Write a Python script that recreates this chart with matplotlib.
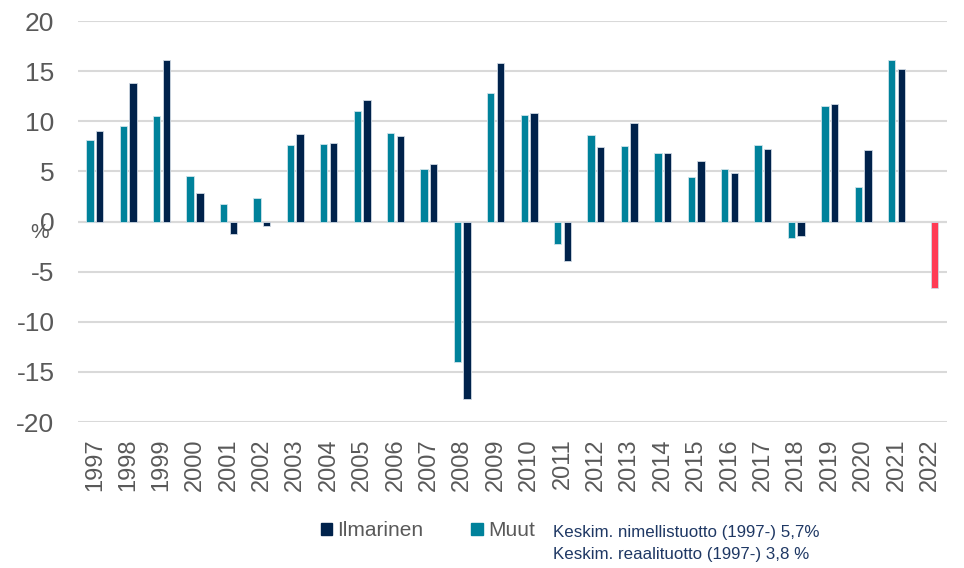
import numpy as np
import matplotlib.pyplot as plt
from matplotlib import font_manager
from matplotlib.patches import Patch

years = [str(y) for y in range(1997, 2023)]
muut = [8.1, 9.55, 10.5, 4.5, 1.7, 2.35, 7.6, 7.75, 11.0, 8.8, 5.2,
        -14.0, 12.8, 10.6, -2.25, 8.6, 7.55, 6.8, 4.4, 5.2, 7.6, -1.65,
        11.5, 3.45, 16.1, np.nan]
ilmarinen = [9.0, 13.8, 16.1, 2.8, -1.2, -0.45, 8.7, 7.85, 12.1, 8.5, 5.7,
             -17.7, 15.8, 10.8, -3.95, 7.45, 9.8, 6.8, 6.0, 4.8, 7.2, -1.4,
             11.75, 7.1, 15.2, -6.6]
notes = ["Keskim. nimellistuotto (1997-) 5,7%",
         "Keskim. reaalituotto (1997-) 3,8 %"]

c_muut = '#00829B'
c_ilm = '#00224B'
c_last = '#FF3B55'
grey = '#595959'

names = {f.name for f in font_manager.fontManager.ttflist}
narrow = 'Liberation Sans Narrow' in names
plt.rcParams['font.family'] = ['Liberation Sans', 'DejaVu Sans']
plt.rcParams['axes.unicode_minus'] = False

fig = plt.figure(figsize=(9.64, 5.68), dpi=100)
ax = fig.add_axes([0.081, 0.257, 0.901, 0.706])

x = np.arange(len(years))
w = 0.22
ilm_colors = [c_ilm] * (len(years) - 1) + [c_last]
ax.bar(x - 0.145, muut, w, color=c_muut, edgecolor='#CFE3EA', linewidth=0.6, zorder=3)
ax.bar(x + 0.145, ilmarinen, w, color=ilm_colors, edgecolor='#CFD8E3', linewidth=0.6, zorder=3)

ax.set_xlim(-0.5, len(years) - 0.5)
ax.set_ylim(-20, 20)
ax.set_yticks(range(-20, 21, 5))
ax.set_xticks(x)
ax.set_xticklabels(years, rotation=90, fontsize=17, color=grey)
ax.tick_params(axis='y', labelsize=19, labelcolor=grey, length=0, pad=17)
ax.tick_params(axis='x', length=0, pad=12)
ax.grid(axis='y', color='#D9D9D9', linewidth=1.5, zorder=0)
ax.axhline(0, color='#D9D9D9', linewidth=1.5, zorder=1)
for s in ax.spines.values():
    s.set_visible(False)

fig.text(30 / 964, 1 - 233 / 568, '%', fontsize=15, color=grey, va='center')

if narrow:
    lfam = ['Liberation Sans Narrow', 'Liberation Sans']
    lsize, nsize = 18, 15
else:
    lfam = ['Liberation Sans', 'DejaVu Sans']
    lsize, nsize = 15, 12.2

handles = [Patch(color=c_ilm), Patch(color=c_muut)]
fig.legend(handles, ['Ilmarinen', 'Muut'], loc='center left',
           bbox_to_anchor=(302 / 964, 1 - 531 / 568), ncol=2, frameon=False,
           handlelength=0.55, handleheight=0.55, handletextpad=0.25,
           columnspacing=2.3, labelcolor=grey,
           prop={'family': lfam, 'size': lsize})

fig.text(553 / 964, 1 - 533 / 568, notes[0], family=lfam, fontsize=nsize,
         color='#1F3864', va='center')
fig.text(553 / 964, 1 - 554 / 568, notes[1], family=lfam, fontsize=nsize,
         color='#1F3864', va='center')

fig.savefig('out.png', dpi=100)
